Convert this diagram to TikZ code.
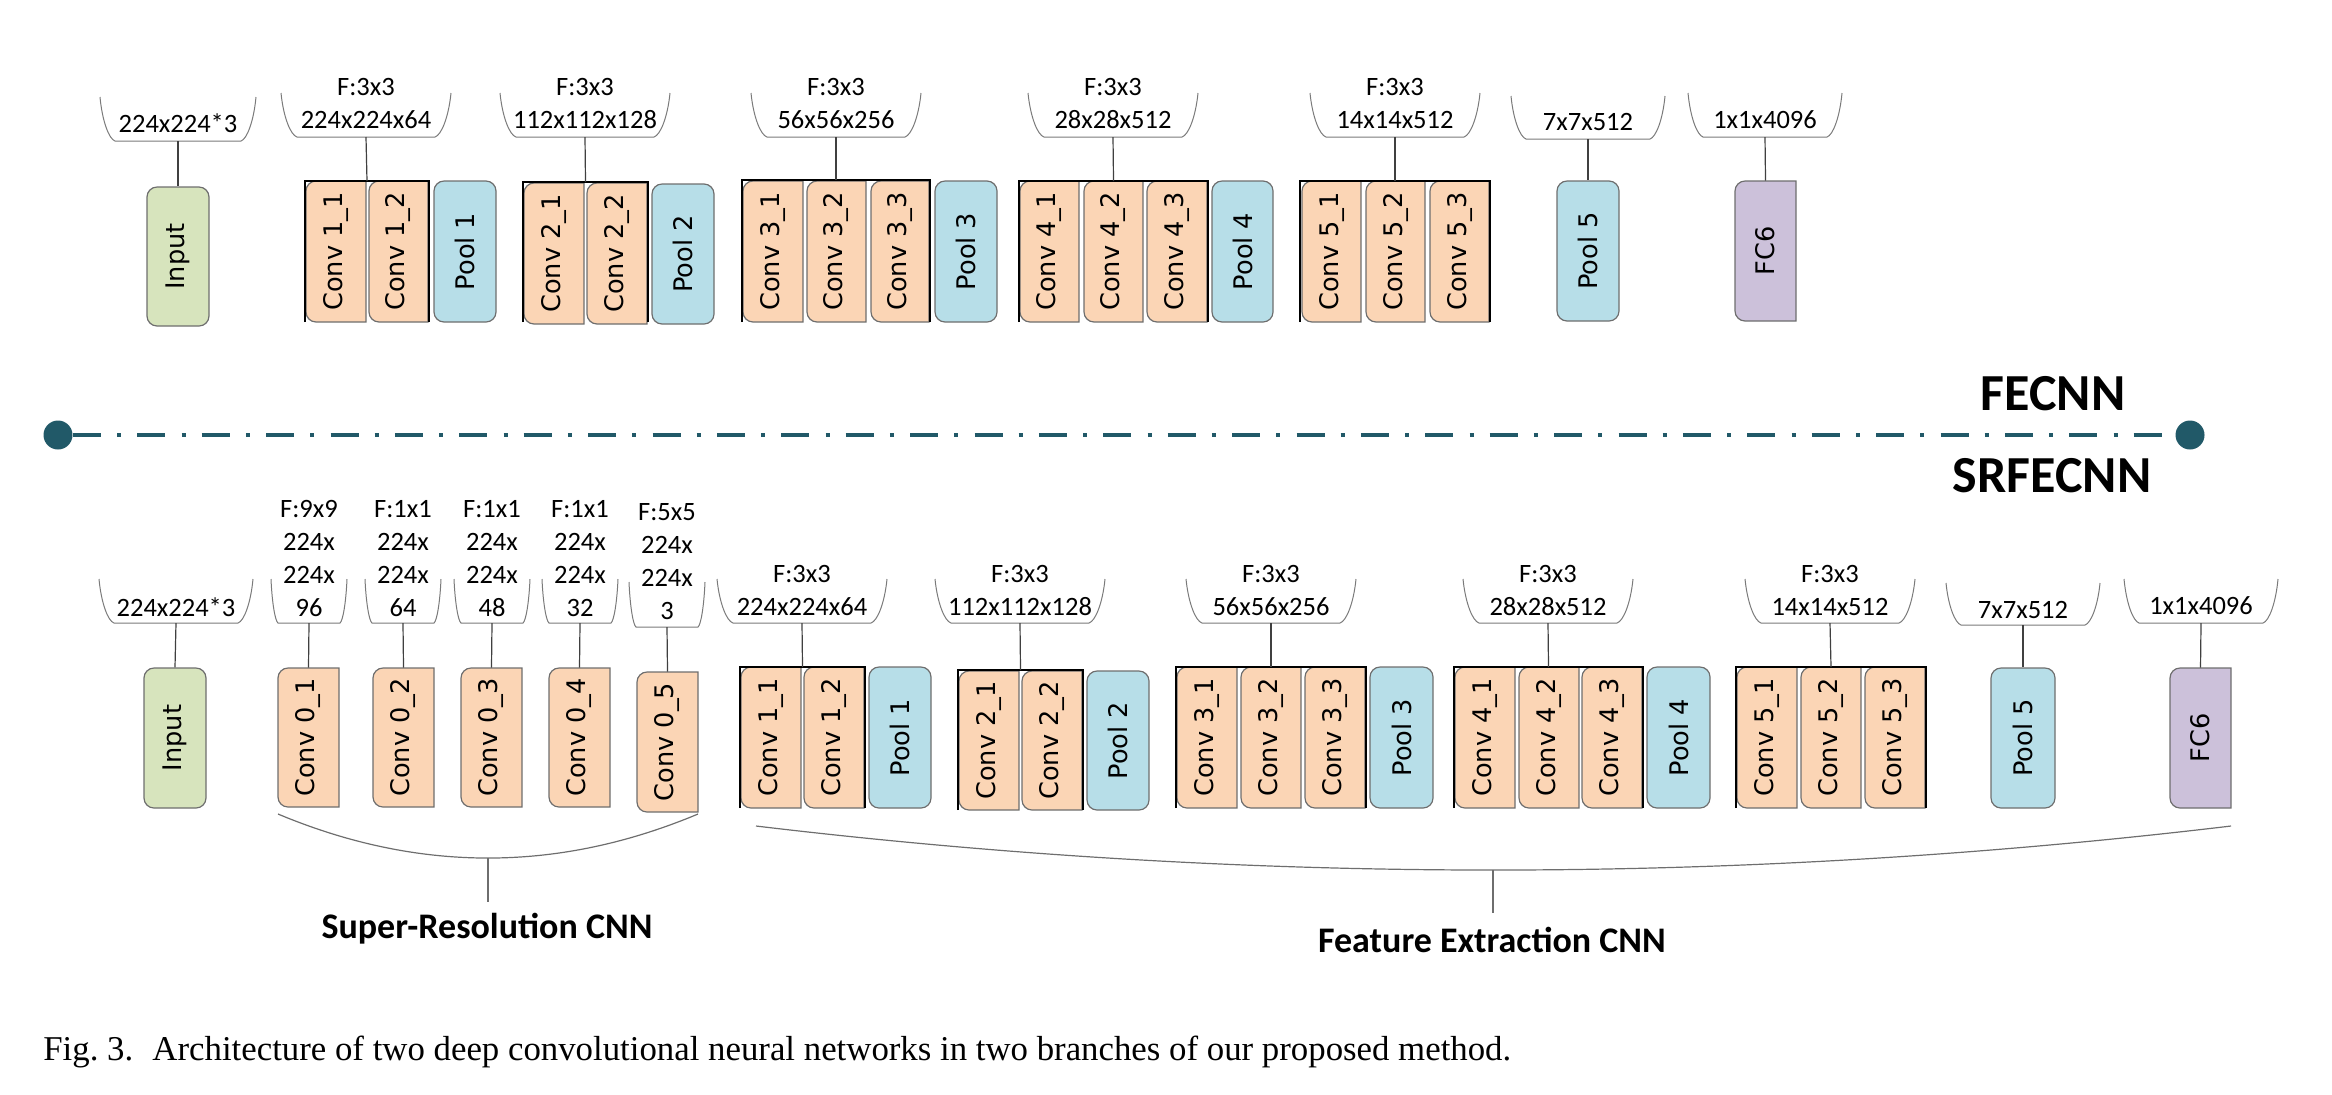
\documentclass[tikz,border=0pt]{standalone}
\usepackage{fontspec}
\usepackage{graphicx}
\setmainfont{Carlito}
\newfontfamily\boxfont{DejaVu Sans}
\newfontfamily\capfont{Liberation Serif}
\usetikzlibrary{calc}
\definecolor{convfill}{HTML}{FBD5B5}
\definecolor{poolfill}{HTML}{B7DEE8}
\definecolor{inputfill}{HTML}{D7E4BD}
\definecolor{fcfill}{HTML}{CCC1DA}
\definecolor{boxedge}{HTML}{6E6E6E}
\definecolor{tealline}{HTML}{215968}
\definecolor{brkline}{HTML}{7A7A7A}
\tikzset{
  boxshape/.style={draw=boxedge, line width=0.6pt},
  boxlabel/.style={inner sep=0pt, font=\boxfont\fontsize{12.8}{14}\selectfont},
  roundbox/.style={boxshape, rounded corners=5pt, inner sep=0pt, font=\boxfont\fontsize{12.8}{14}\selectfont},
  lbl/.style={inner sep=0pt, font=\fontsize{13.25}{16.5}\selectfont, align=center},
  brk/.style={draw=brkline, line width=0.5pt},
  conn/.style={draw=black!75, line width=0.6pt},
  framel/.style={draw=black, line width=1.1pt},
  arcline/.style={draw=boxedge, line width=0.6pt},
  bigbold/.style={inner sep=0pt, font=\bfseries\fontsize{26}{28}\selectfont},
  grplabel/.style={inner sep=0pt, font=\bfseries\fontsize{18}{20}\selectfont, anchor=base},
  dotnode/.style={circle, fill=tealline, inner sep=0pt, minimum size=14.5pt},
}
% left-rounded box: name, x1, x2, ytop, ybot, fill, text
\newcommand{\leftbox}[7]{%
  \filldraw[boxshape, fill=#6] (#3,-#4) -- ({#2+10},-#4)
    arc[start angle=90,end angle=180,radius=10] -- (#2,{-#5+10})
    arc[start angle=180,end angle=270,radius=10] -- (#3,-#5) -- cycle;
  \node[boxlabel, minimum width={(#3-#2)*0.5pt}, minimum height={(#5-#4)*0.5pt}]
    (#1) at ({(#2+#3)/2},{-(#4+#5)/2}) {\rotatebox{90}{#7}};
}
% fully rounded box
\newcommand{\rdbox}[7]{%
  \node[roundbox, fill=#6, minimum width={(#3-#2)*0.5pt}, minimum height={(#5-#4)*0.5pt}]
    (#1) at ({(#2+#3)/2},{-(#4+#5)/2}) {\rotatebox{90}{#7}};
}
% group frame: name, x1, x2, ytop, ybot
\newcommand{\grpframe}[5]{%
  \draw[framel] (#2,-#5) -- (#2,-#4) -- (#3,-#4) -- (#3,-#5);
  \coordinate (#1) at ({(#2+#3)/2},-#4);
}
% bracket: name, xc, hw, ytop, ybot, dx
\newcommand{\brkt}[6]{%
  \draw[brk] ({#2-#3},-#4) .. controls ({#2-#3+0.15*#6},{-#4-0.55*(#5-#4)}) and ({#2-#3+0.6*#6},{-#5+2}) .. ({#2-#3+#6},-#5)
    -- ({#2+#3-#6},-#5) .. controls ({#2+#3-0.6*#6},{-#5+2}) and ({#2+#3-0.15*#6},{-#4-0.55*(#5-#4)}) .. ({#2+#3},-#4);
  \coordinate (#1) at (#2,-#5);
}
\begin{document}
\begin{tikzpicture}[x=0.5pt,y=0.5pt]
\useasboundingbox (0,0) rectangle (2332,-1094);
\frenchspacing
% ================= TOP ROW (FECNN) =================
\brkt{bInT}{178}{78}{97}{141}{15}
\node[lbl] (tInT) at (178,-123) {224x224*3};
\rdbox{inT}{147}{209}{187}{326}{inputfill}{Input}
\draw[conn] (bInT) -- (inT.north);

\brkt{b1T}{366}{85}{93}{137}{16}
\node[lbl] (t1T) at (366,-103.5) {F:3x3\\224x224x64};
\leftbox{c11T}{306}{366}{181}{322}{convfill}{Conv 1\_1}
\leftbox{c12T}{369}{428}{181}{322}{convfill}{Conv 1\_2}
\grpframe{g1T}{305}{429}{181}{322}
\rdbox{p1T}{434}{496}{181}{322}{poolfill}{Pool 1}
\draw[conn] (b1T) -- (g1T);

\brkt{b2T}{585}{85}{93}{137}{16}
\node[lbl] (t2T) at (585,-103.5) {F:3x3\\112x112x128};
\leftbox{c21T}{524}{584}{183}{324}{convfill}{Conv 2\_1}
\leftbox{c22T}{587}{647}{183}{324}{convfill}{Conv 2\_2}
\grpframe{g2T}{523}{648}{182}{322}
\rdbox{p2T}{652}{714}{184}{324}{poolfill}{Pool 2}
\draw[conn] (b2T) -- (g2T);

\brkt{b3T}{836}{85}{93}{137}{16}
\node[lbl] (t3T) at (836,-103.5) {F:3x3\\56x56x256};
\leftbox{c31T}{743}{803}{181}{322}{convfill}{Conv 3\_1}
\leftbox{c32T}{807}{866}{181}{322}{convfill}{Conv 3\_2}
\leftbox{c33T}{871}{929}{181}{322}{convfill}{Conv 3\_3}
\grpframe{g3T}{742}{930}{180}{322}
\rdbox{p3T}{935}{997}{181}{322}{poolfill}{Pool 3}
\draw[conn] (b3T) -- (g3T);

\brkt{b4T}{1113}{85}{93}{137}{16}
\node[lbl] (t4T) at (1113,-103.5) {F:3x3\\28x28x512};
\leftbox{c41T}{1020}{1079}{181}{322}{convfill}{Conv 4\_1}
\leftbox{c42T}{1084}{1143}{181}{322}{convfill}{Conv 4\_2}
\leftbox{c43T}{1147}{1207}{181}{322}{convfill}{Conv 4\_3}
\grpframe{g4T}{1019}{1208}{181}{322}
\rdbox{p4T}{1212}{1273}{181}{322}{poolfill}{Pool 4}
\draw[conn] (b4T) -- (g4T);

\brkt{b5T}{1395}{85}{93}{137}{16}
\node[lbl] (t5T) at (1395,-103.5) {F:3x3\\14x14x512};
\leftbox{c51T}{1302}{1361}{181}{322}{convfill}{Conv 5\_1}
\leftbox{c52T}{1366}{1425}{181}{322}{convfill}{Conv 5\_2}
\leftbox{c53T}{1430}{1489}{181}{322}{convfill}{Conv 5\_3}
\grpframe{g5T}{1300}{1490}{181}{322}
\draw[conn] (b5T) -- (g5T);

\brkt{b6T}{1588}{77}{96}{139}{15}
\node[lbl] (t6T) at (1588,-122) {7x7x512};
\rdbox{p5T}{1557}{1619}{181}{321}{poolfill}{Pool 5}
\draw[conn] (b6T) -- (p5T.north);

\brkt{b7T}{1765}{77}{93}{137}{15}
\node[lbl] (t7T) at (1765,-120) {1x1x4096};
\leftbox{fcT}{1735}{1796}{181}{321}{fcfill}{FC6}
\draw[conn] (b7T) -- (fcT.north);

% ================= SEPARATOR =================
\node[dotnode] (dotL) at (58,-435) {};
\node[dotnode] (dotR) at (2190,-435) {};
\draw[tealline, line width=2pt, dash pattern=on 14pt off 8.1pt on 2pt off 8.1pt] (dotL) -- (dotR);
\node[bigbold] (fecnn) at (2053,-394) {FECNN};
\node[bigbold] (srfecnn) at (2052,-476) {SRFECNN};

% ================= BOTTOM ROW (SRFECNN) =================
\brkt{bInB}{176}{77}{579}{623}{15}
\node[lbl] (tInB) at (176,-607) {224x224*3};
\rdbox{inB}{144}{206}{668}{808}{inputfill}{Input}
\draw[conn] (bInB) -- (inB.north);

% super-resolution
\brkt{bs1}{309}{38}{579}{623}{7}
\node[lbl] (ts1) at (309,-558.5) {F:9x9\\224x\\224x\\96};
\leftbox{c01}{278}{339}{668}{807}{convfill}{Conv 0\_1}
\draw[conn] (bs1) -- (c01.north);

\brkt{bs2}{403}{38}{579}{623}{7}
\node[lbl] (ts2) at (403,-558.5) {F:1x1\\224x\\224x\\64};
\leftbox{c02}{373}{434}{668}{807}{convfill}{Conv 0\_2}
\draw[conn] (bs2) -- (c02.north);

\brkt{bs3}{492}{38}{579}{623}{7}
\node[lbl] (ts3) at (492,-558.5) {F:1x1\\224x\\224x\\48};
\leftbox{c03}{461}{522}{668}{807}{convfill}{Conv 0\_3}
\draw[conn] (bs3) -- (c03.north);

\brkt{bs4}{580}{38}{579}{623}{7}
\node[lbl] (ts4) at (580,-558.5) {F:1x1\\224x\\224x\\32};
\leftbox{c04}{549}{610}{668}{807}{convfill}{Conv 0\_4}
\draw[conn] (bs4) -- (c04.north);

\brkt{bs5}{667}{38}{582}{627}{7}
\node[lbl] (ts5) at (667,-562) {F:5x5\\224x\\224x\\3};
\leftbox{c05}{637}{698}{672}{812}{convfill}{Conv 0\_5}
\draw[conn] (bs5) -- (c05.north);

% feature extraction
\brkt{b1B}{802}{85}{579}{623}{16}
\node[lbl] (t1B) at (802,-590) {F:3x3\\224x224x64};
\leftbox{c11B}{741}{801}{667}{808}{convfill}{Conv 1\_1}
\leftbox{c12B}{804}{864}{667}{808}{convfill}{Conv 1\_2}
\grpframe{g1B}{740}{865}{667}{808}
\rdbox{p1B}{869}{931}{667}{808}{poolfill}{Pool 1}
\draw[conn] (b1B) -- (g1B);

\brkt{b2B}{1020}{85}{579}{623}{16}
\node[lbl] (t2B) at (1020,-590) {F:3x3\\112x112x128};
\leftbox{c21B}{959}{1019}{671}{810}{convfill}{Conv 2\_1}
\leftbox{c22B}{1022}{1082}{671}{810}{convfill}{Conv 2\_2}
\grpframe{g2B}{958}{1083}{670}{810}
\rdbox{p2B}{1087}{1149}{671}{810}{poolfill}{Pool 2}
\draw[conn] (b2B) -- (g2B);

\brkt{b3B}{1271}{85}{579}{623}{16}
\node[lbl] (t3B) at (1271,-590) {F:3x3\\56x56x256};
\leftbox{c31B}{1177}{1237}{667}{808}{convfill}{Conv 3\_1}
\leftbox{c32B}{1241}{1301}{667}{808}{convfill}{Conv 3\_2}
\leftbox{c33B}{1305}{1365}{667}{808}{convfill}{Conv 3\_3}
\grpframe{g3B}{1176}{1366}{667}{808}
\rdbox{p3B}{1370}{1433}{667}{808}{poolfill}{Pool 3}
\draw[conn] (b3B) -- (g3B);

\brkt{b4B}{1548}{85}{579}{623}{16}
\node[lbl] (t4B) at (1548,-590) {F:3x3\\28x28x512};
\leftbox{c41B}{1455}{1515}{667}{808}{convfill}{Conv 4\_1}
\leftbox{c42B}{1519}{1579}{667}{808}{convfill}{Conv 4\_2}
\leftbox{c43B}{1582}{1642}{667}{808}{convfill}{Conv 4\_3}
\grpframe{g4B}{1454}{1643}{667}{808}
\rdbox{p4B}{1647}{1710}{667}{808}{poolfill}{Pool 4}
\draw[conn] (b4B) -- (g4B);

\brkt{b5B}{1830}{85}{579}{623}{16}
\node[lbl] (t5B) at (1830,-590) {F:3x3\\14x14x512};
\leftbox{c51B}{1737}{1797}{667}{808}{convfill}{Conv 5\_1}
\leftbox{c52B}{1801}{1861}{667}{808}{convfill}{Conv 5\_2}
\leftbox{c53B}{1865}{1925}{667}{808}{convfill}{Conv 5\_3}
\grpframe{g5B}{1736}{1926}{667}{808}
\draw[conn] (b5B) -- (g5B);

\brkt{b6B}{2023}{77}{583}{625}{15}
\node[lbl] (t6B) at (2023,-610) {7x7x512};
\rdbox{p5B}{1991}{2055}{668}{808}{poolfill}{Pool 5}
\draw[conn] (b6B) -- (p5B.north);

\brkt{b7B}{2201}{77}{579}{623}{15}
\node[lbl] (t7B) at (2201,-606) {1x1x4096};
\leftbox{fcB}{2170}{2231}{668}{808}{fcfill}{FC6}
\draw[conn] (b7B) -- (fcB.north);

% ================= GROUP BRACES =================
\coordinate (srL) at (278,-814);
\coordinate (srR) at (698,-814);
\coordinate (srM) at (488,-858);
\coordinate (srTick) at (488,-902);
\draw[arcline] (srL) .. controls (418,-872.7) and (558,-872.7) .. (srR);
\draw[arcline] (srM) -- (srTick);
\node[grplabel] (srlab) at (487,-938) {Super-Resolution CNN};

\coordinate (feL) at (756,-826);
\coordinate (feR) at (2231,-826);
\coordinate (feM) at (1493,-870);
\coordinate (feTick) at (1493,-913);
\draw[arcline] (feL) .. controls (1247.7,-884.7) and (1739.3,-884.7) .. (feR);
\draw[arcline] (feM) -- (feTick);
\node[grplabel] (felab) at (1492,-952) {Feature Extraction CNN};

% ================= CAPTION =================
\node[anchor=base west, inner sep=0pt, font=\capfont\fontsize{17.4}{19}\selectfont] (caption) at (43,-1060)
  {Fig. 3.\hspace{0.55em}Architecture of two deep convolutional neural networks in two branches of our proposed method.};
\end{tikzpicture}
\end{document}
